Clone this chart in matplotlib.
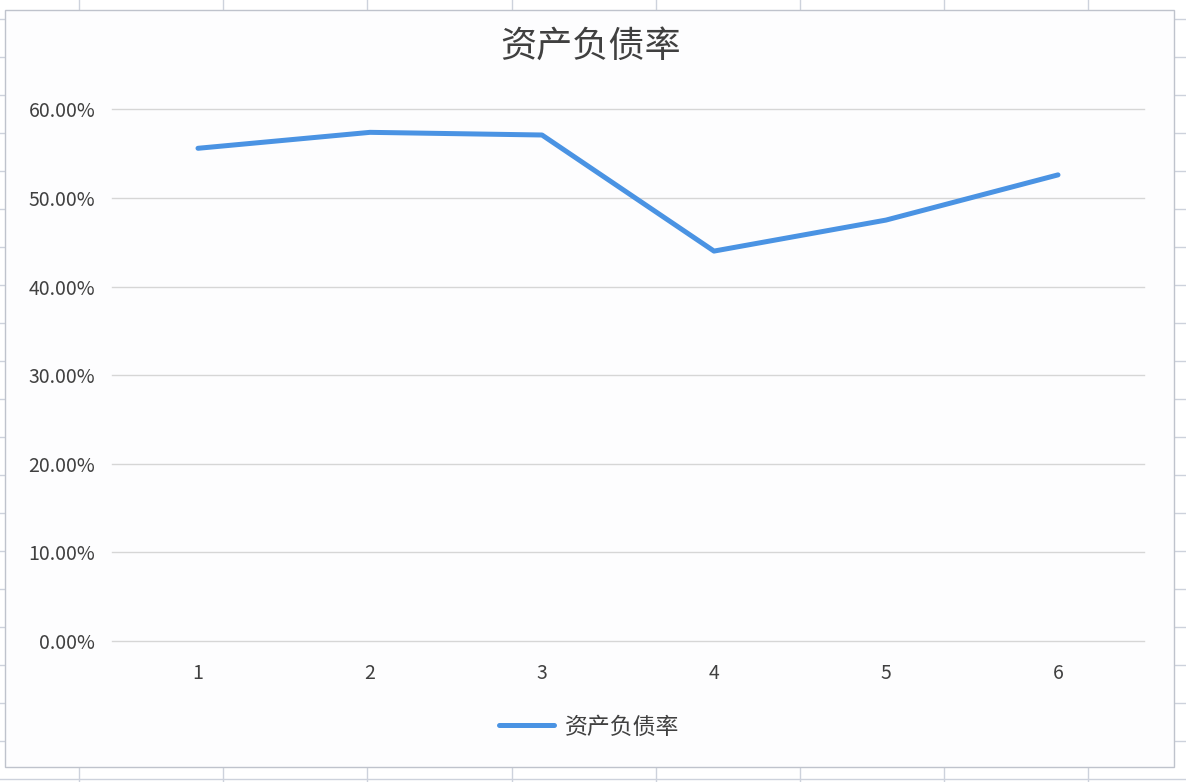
import numpy as np
from matplotlib import pyplot as plt
from matplotlib.lines import Line2D
from matplotlib.patches import Rectangle
from matplotlib.ticker import PercentFormatter

plt.rcParams['font.family'] = ['Noto Sans CJK SC', 'DejaVu Sans']

# data
periods = ['1', '2', '3', '4', '5', '6']
debt_ratio = [0.556, 0.574, 0.571, 0.440, 0.475, 0.526]
series_name = '资产负债率'
title = '资产负债率'

W, H = 1186, 782
text_color = '#404040'
line_color = '#4A93E3'

fig = plt.figure(figsize=(W / 100, H / 100), dpi=100)
fig.patch.set_facecolor('white')

# spreadsheet cell grid peeking out around the chart
for x in np.arange(79, W, 144.2):
    fig.add_artist(Line2D([x / W, x / W], [0, 1], color='#CDD2DC', lw=1, zorder=-3))
for y in np.arange(19, H, 38):
    fig.add_artist(Line2D([0, 1], [1 - y / H, 1 - y / H], color='#CDD2DC', lw=1, zorder=-3))

# chart area
fig.add_artist(Rectangle((5 / W, 1 - 767 / H), (1174 - 5) / W, (767 - 10) / H,
                         facecolor='#FDFDFE', edgecolor='#BFC3CC', lw=1, zorder=-2))

ax = fig.add_axes([112 / W, 1 - 641 / H, (1144 - 112) / W, (641 - 109.3) / H])
ax.set_facecolor('none')

x = np.arange(len(periods))
ax.plot(x, debt_ratio, color=line_color, lw=3.6, solid_capstyle='round',
        solid_joinstyle='round', label=series_name, zorder=3)

ax.set_xlim(-0.5, len(periods) - 0.5)
ax.set_ylim(0, 0.6)
ax.set_yticks(np.arange(0, 0.61, 0.1))
ax.yaxis.set_major_formatter(PercentFormatter(1.0, decimals=2))
ax.set_xticks(x)
ax.set_xticklabels(periods)
ax.grid(axis='y', color='#D6D6D6', lw=1)
for gl in ax.get_ygridlines():
    gl.set_clip_on(False)
ax.set_axisbelow(True)
for s in ax.spines.values():
    s.set_visible(False)
ax.tick_params(axis='both', length=0, labelsize=14, labelcolor=text_color)
ax.tick_params(axis='x', pad=16)
ax.tick_params(axis='y', pad=12)

fig.text(591 / W, 1 - 47 / H, title, ha='center', va='center',
         fontsize=26, color=text_color)

fig.legend(loc='center', bbox_to_anchor=(589 / W, 1 - 727 / H), frameon=False,
           fontsize=16.5, labelcolor=text_color, handlelength=2.4, handletextpad=0.45)

plt.savefig('out.png', dpi=100)
